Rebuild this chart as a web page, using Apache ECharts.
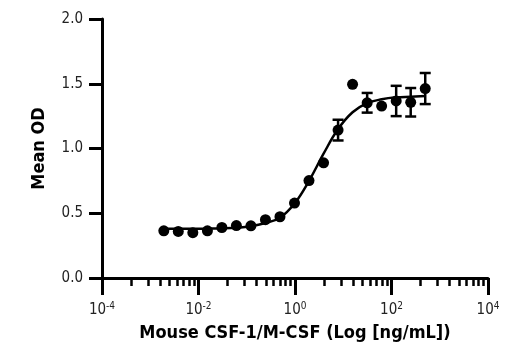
<!DOCTYPE html>
<html>
<head>
<meta charset="utf-8">
<script src="https://cdn.jsdelivr.net/npm/echarts@6/dist/echarts.min.js"></script>
<style>
  html, body { margin: 0; padding: 0; background: #fff; }
  #chart { width: 520px; height: 350px; }
</style>
</head>
<body>
<div id="chart"></div>
<script>
// concentration (ng/mL), 2-fold serial dilution from 500
var concentrations = [0.00191, 0.00381, 0.00763, 0.0153, 0.0305, 0.0610, 0.122, 0.244, 0.488, 0.977,
                      1.95, 3.91, 7.81, 15.6, 31.3, 62.5, 125, 250, 500];
var meanOD = [0.364, 0.360, 0.350, 0.364, 0.390, 0.405, 0.403, 0.450, 0.473, 0.579,
              0.752, 0.889, 1.142, 1.496, 1.353, 1.328, 1.367, 1.357, 1.463];
var errorOD = [0, 0, 0, 0, 0, 0, 0, 0, 0, 0,
               0, 0, 0.080, 0, 0.076, 0, 0.117, 0.110, 0.120];
// fitted curve at the same concentrations
var fitOD = [0.380, 0.380, 0.380, 0.381, 0.383, 0.388, 0.400, 0.425, 0.465, 0.575,
             0.750, 0.960, 1.150, 1.280, 1.350, 1.380, 1.395, 1.400, 1.405];
var yTicks = [0, 0.5, 1.0, 1.5, 2.0];
var xMajorExps = [-4, -2, 0, 2, 4];

(function () {
  var ink = '#000';
  var text = '#222';
  var font = '"Liberation Sans Narrow", "DejaVu Sans Condensed", "Arial Narrow", sans-serif';

  // minor ticks: GraphPad-style, spaced like log(k) inside each 2-decade step
  var minorExps = [];
  for (var i = 0; i < xMajorExps.length - 1; i++) {
    for (var k = 2; k <= 9; k++) {
      minorExps.push(xMajorExps[i] + 2 * Math.log10(k));
    }
  }

  var points = concentrations.map(function (c, i) { return [c, meanOD[i]]; });
  var curve = concentrations.map(function (c, i) { return [c, fitOD[i]]; });
  var bars = [];
  concentrations.forEach(function (c, i) {
    if (errorOD[i] > 0) bars.push([c, meanOD[i] - errorOD[i], meanOD[i] + errorOD[i]]);
  });

  var chart = echarts.init(document.getElementById('chart'), null, { renderer: 'canvas' });

  chart.setOption({
    backgroundColor: '#fff',
    animation: false,
    grid: { left: 102, right: 32, top: 19, bottom: 72, containLabel: false },
    xAxis: [
      {
        // data axis
        type: 'log',
        logBase: 10,
        min: 1e-4,
        max: 1e4,
        name: 'Mouse CSF-1/M-CSF (Log [ng/mL])',
        nameLocation: 'middle',
        nameGap: 46,
        nameTextStyle: { color: ink, fontFamily: font, fontWeight: 'bold', fontSize: 18 },
        axisLine: { onZero: false, lineStyle: { color: ink, width: 3 } },
        axisTick: { show: false },
        axisLabel: { show: false },
        minorTick: { show: false },
        splitLine: { show: false }
      },
      {
        // major ticks + labels, in exponent units
        type: 'value',
        min: -4,
        max: 4,
        interval: 2,
        position: 'bottom',
        axisLine: { show: false, onZero: false },
        splitLine: { show: false },
        axisTick: { show: true, length: 17, customValues: xMajorExps, lineStyle: { color: ink, width: 3 } },
        axisLabel: {
          margin: 23,
          customValues: xMajorExps,
          formatter: function (v) {
            return '{b|10}{s|' + v + '}';
          },
          rich: {
            b: { fontFamily: font, fontSize: 15, color: text, lineHeight: 18 },
            s: { fontFamily: font, fontSize: 10, color: text, verticalAlign: 'top', lineHeight: 18, padding: [0, 0, 8, 0] }
          }
        }
      },
      {
        // minor ticks
        type: 'value',
        min: -4,
        max: 4,
        position: 'bottom',
        axisLine: { show: false, onZero: false },
        axisLabel: { show: false },
        splitLine: { show: false },
        axisTick: { show: true, length: 8, customValues: minorExps, lineStyle: { color: ink, width: 2.5 } }
      }
    ],
    yAxis: {
      type: 'value',
      min: 0,
      max: 2,
      interval: 0.5,
      name: 'Mean OD',
      nameLocation: 'middle',
      nameGap: 54,
      nameTextStyle: { color: ink, fontFamily: font, fontWeight: 'bold', fontSize: 18 },
      axisLine: { show: true, onZero: false, lineStyle: { color: ink, width: 3 } },
      axisTick: { show: true, length: 13, lineStyle: { color: ink, width: 3 } },
      splitLine: { show: false },
      axisLabel: {
        margin: 19,
        color: text,
        fontFamily: font,
        fontSize: 15,
        formatter: function (v) { return v.toFixed(1); }
      }
    },
    series: [
      {
        name: 'fit',
        type: 'line',
        xAxisIndex: 0,
        data: curve,
        smooth: 0.4,
        showSymbol: false,
        lineStyle: { color: ink, width: 2.5 },
        z: 2
      },
      {
        name: 'sd',
        type: 'custom',
        xAxisIndex: 0,
        data: bars,
        z: 3,
        renderItem: function (params, api) {
          var top = api.coord([api.value(0), api.value(2)]);
          var bot = api.coord([api.value(0), api.value(1)]);
          var w = 5.5;
          var st = { stroke: ink, lineWidth: 2.5 };
          return {
            type: 'group',
            children: [
              { type: 'line', shape: { x1: top[0], y1: top[1], x2: bot[0], y2: bot[1] }, style: st },
              { type: 'line', shape: { x1: top[0] - w, y1: top[1], x2: top[0] + w, y2: top[1] }, style: st },
              { type: 'line', shape: { x1: bot[0] - w, y1: bot[1], x2: bot[0] + w, y2: bot[1] }, style: st }
            ]
          };
        }
      },
      {
        name: 'mean',
        type: 'scatter',
        xAxisIndex: 0,
        data: points,
        symbol: 'circle',
        symbolSize: 11,
        itemStyle: { color: ink, opacity: 1 },
        z: 4
      }
    ]
  });
})();
</script>
</body>
</html>
